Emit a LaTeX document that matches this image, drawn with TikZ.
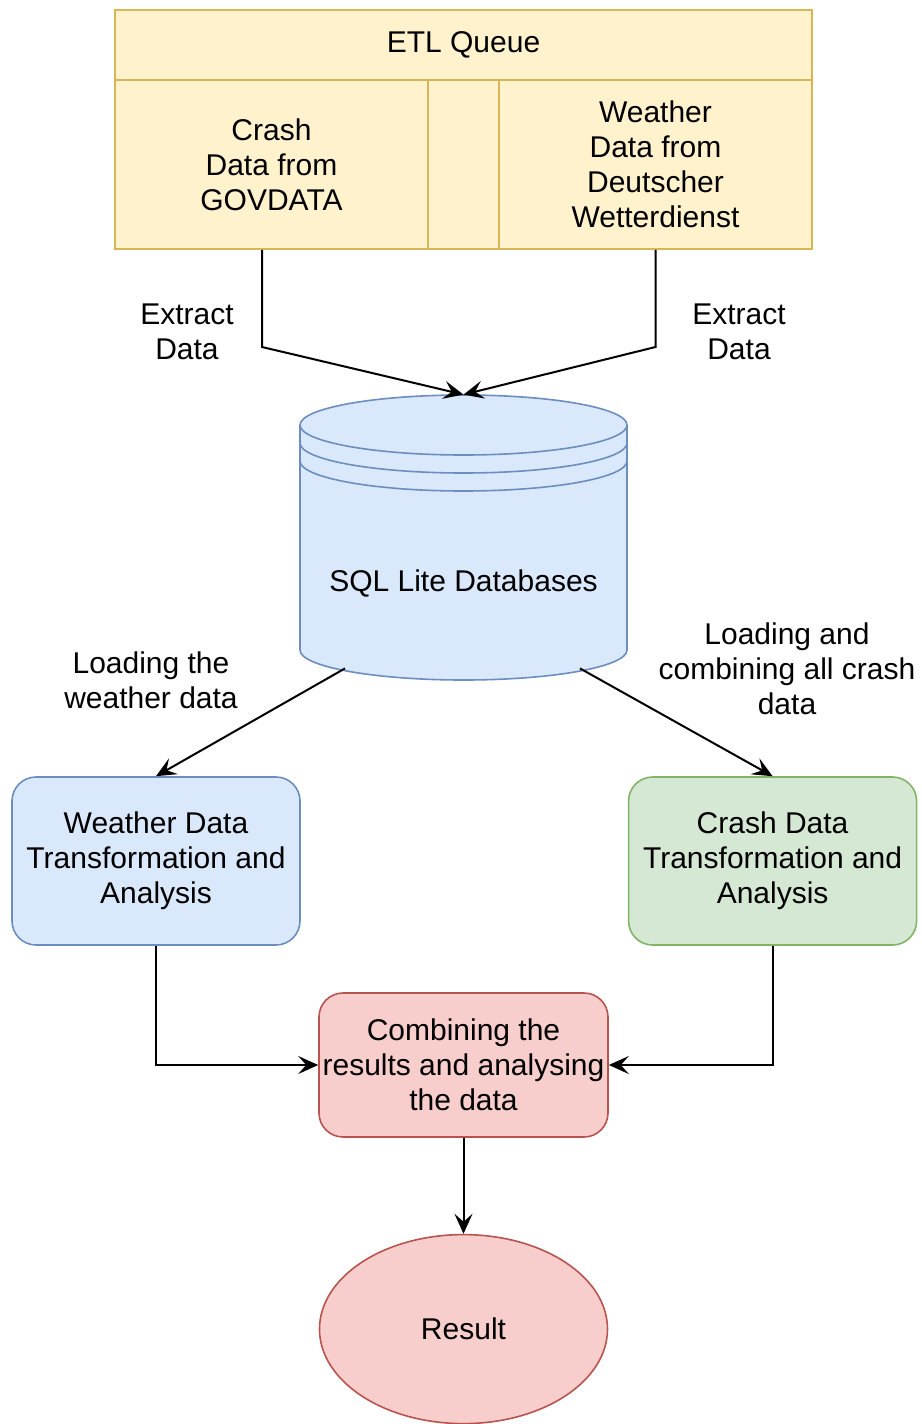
\documentclass[tikz,border=0pt]{standalone}
\usepackage{fontspec}
\setmainfont{Liberation Sans}
\usetikzlibrary{positioning}
\usetikzlibrary{calc}
\usetikzlibrary{arrows.meta}
\usetikzlibrary{shapes.geometric}

\definecolor{etlfill}{HTML}{FFF2CC}
\definecolor{etldraw}{HTML}{D6B656}
\definecolor{bluefill}{HTML}{DAE8FC}
\definecolor{bluedraw}{HTML}{6C8EBF}
\definecolor{greenfill}{HTML}{D5E8D4}
\definecolor{greendraw}{HTML}{82B366}
\definecolor{redfill}{HTML}{F8CECC}
\definecolor{reddraw}{HTML}{B85450}

\tikzset{
  txt/.style={font=\fontsize{15}{17.5}\selectfont, align=center, inner sep=0pt},
  etlbox/.style={txt, draw=etldraw, fill=etlfill, line width=0.8pt},
  procbox/.style={txt, rounded corners=12pt, line width=0.8pt, minimum width=144pt, minimum height=84pt},
  arr/.style={-{Stealth[length=10pt, width=9pt, inset=4pt]}, line width=1pt},
}

\begin{document}
\begin{tikzpicture}[x=0.5pt, y=-0.5pt]
    \useasboundingbox (0,0) rectangle (921,1424);

    % ETL queue
    \node [etlbox, minimum width=348.5pt, minimum height=119.5pt] (etl) at (463.5,129.5) {};
    \node [txt] (etltitle) at (463.5,45) {ETL Queue};
    \coordinate (hdl) at (115,80);
    \draw [etldraw, line width=0.8pt] (hdl) -- (hdl -| etl.east);
    \node [etlbox, minimum width=156.5pt, minimum height=84.5pt] (crashsrc) at (271.5,164.5) {Crash\\Data from\\GOVDATA};
    \node [etlbox, minimum width=156.5pt, minimum height=84.5pt] (weathersrc) at (655.5,164.5) {Weather\\Data from\\Deutscher\\Wetterdienst};

    % database
    \node [minimum width=163.5pt, minimum height=142.5pt, inner sep=0pt] (db) at (463.5,537.5) {};
    \path [fill=bluefill, draw=bluedraw, line width=0.8pt] (300,425) arc [start angle=180, end angle=0, x radius=81.75pt, y radius=15pt]
        -- (627,650) arc [start angle=0, end angle=-180, x radius=81.75pt, y radius=15pt] -- cycle;
    \foreach \yy in {425,443,461}
      \draw [bluedraw, line width=0.8pt] (300,\yy) arc [start angle=180, end angle=360, x radius=81.75pt, y radius=15pt];
    \node [txt] (dbtext) at (463.5,583) {SQL Lite Databases};

    \coordinate (bendL) at (262,347);
    \coordinate (bendR) at (655.5,347);
    \draw [arr] (bendL |- crashsrc.south) -- (bendL) -- (db.north);
    \draw [arr] (weathersrc.south) -- (bendR) -- (db.north);
    \node [txt] (extractL) at (187,332) {Extract\\Data};
    \node [txt] (extractR) at (739,332) {Extract\\Data};

    % transformation
    \node [procbox, draw=bluedraw, fill=bluefill] (wproc) at (156,861) {Weather Data\\Transformation and\\Analysis};
    \node [procbox, draw=greendraw, fill=greenfill, right=163.5pt of wproc] (cproc) {Crash Data\\Transformation and\\Analysis};
    \draw [arr] ($(db.south)+(-118.5,-12)$) -- (wproc.north);
    \draw [arr] ($(db.south)+(116.5,-12)$) -- (cproc.north);
    \node [txt] (loadW) at (151,680) {Loading the\\weather data};
    \node [txt] (loadC) at (787,669) {Loading and\\combining all crash\\data};

    % combine and result
    \node [procbox, draw=reddraw, fill=redfill, minimum width=144.5pt, minimum height=72pt] (combine) at (463.5,1065) {Combining the\\results and analysing\\the data};
    \node [txt, ellipse, draw=reddraw, fill=redfill, line width=0.8pt, minimum width=144pt, minimum height=94.5pt, below=48pt of combine] (result) {Result};
    \draw [arr] (wproc.south) |- (combine.west);
    \draw [arr] (cproc.south) |- (combine.east);
    \draw [arr] (combine) -- (result);
\end{tikzpicture}
\end{document}
